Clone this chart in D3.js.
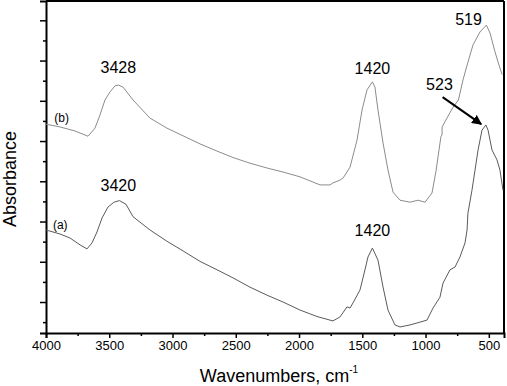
<!DOCTYPE html>
<html>
<head>
<meta charset="utf-8">
<script src="https://cdn.jsdelivr.net/npm/d3@7"></script>
<style>
  body { margin: 0; background: #fff; }
  text { font-family: "Liberation Sans", Arial, sans-serif; }
</style>
</head>
<body>
<div id="chart"></div>
<script>
// spectrum (b) - wavenumber / absorbance
const wnB = [4000, 3889, 3771, 3668, 3613, 3573, 3534, 3494, 3455, 3428, 3391, 3312, 3178, 3044, 2917, 2783, 2648, 2522, 2388, 2253, 2127, 1992, 1834, 1755, 1732, 1676, 1652, 1597, 1542, 1502, 1463, 1420, 1400, 1376, 1336, 1297, 1257, 1202, 1123, 1060, 1004, 949, 917, 895, 878, 870, 869, 840, 783, 740, 704, 665, 625, 570, 540, 519, 490, 455, 425, 395];
const absB = [0.442, 0.435, 0.425, 0.412, 0.432, 0.465, 0.502, 0.522, 0.537, 0.539, 0.534, 0.502, 0.457, 0.432, 0.413, 0.393, 0.375, 0.359, 0.345, 0.333, 0.323, 0.311, 0.291, 0.291, 0.296, 0.303, 0.308, 0.335, 0.402, 0.477, 0.527, 0.547, 0.534, 0.477, 0.395, 0.328, 0.273, 0.253, 0.248, 0.253, 0.248, 0.271, 0.326, 0.375, 0.412, 0.415, 0.435, 0.452, 0.484, 0.502, 0.552, 0.596, 0.639, 0.671, 0.681, 0.688, 0.668, 0.626, 0.594, 0.565];

// spectrum (a)
const wnA = [4000, 3889, 3810, 3731, 3676, 3636, 3597, 3557, 3510, 3463, 3420, 3368, 3312, 3178, 3044, 2917, 2783, 2648, 2522, 2388, 2253, 2127, 1992, 1858, 1732, 1676, 1621, 1597, 1573, 1518, 1479, 1455, 1420, 1376, 1336, 1297, 1242, 1202, 1123, 1044, 989, 941, 886, 862, 807, 767, 728, 688, 672, 665, 633, 585, 554, 523, 506, 475, 435, 412, 388];
const absA = [0.179, 0.169, 0.159, 0.142, 0.132, 0.147, 0.174, 0.209, 0.236, 0.248, 0.252, 0.243, 0.212, 0.179, 0.151, 0.127, 0.101, 0.080, 0.060, 0.037, 0.017, 0.000, -0.020, -0.036, -0.047, -0.037, -0.012, -0.015, -0.002, 0.030, 0.080, 0.112, 0.134, 0.104, 0.037, -0.020, -0.057, -0.062, -0.057, -0.050, -0.045, -0.015, 0.012, 0.047, 0.080, 0.087, 0.112, 0.147, 0.179, 0.221, 0.278, 0.378, 0.427, 0.440, 0.427, 0.378, 0.353, 0.328, 0.278];

const xTicks = [4000, 3500, 3000, 2500, 2000, 1500, 1000, 500];
const yTicks = [0, 0.1, 0.2, 0.3, 0.4, 0.5, 0.6, 0.7];

// peak labels: text, wavenumber, absorbance of baseline
const peakLabels = [
  { text: "3428", wn: 3428, abs: 0.569 },
  { text: "3420", wn: 3428, abs: 0.275 },
  { text: "1420", wn: 1420, abs: 0.567 },
  { text: "1420", wn: 1420, abs: 0.164 },
  { text: "519", wn: 660, abs: 0.688 },
  { text: "523", wn: 890, abs: 0.527 }
];
const curveLabels = [
  { text: "(b)", wn: 3935, abs: 0.448 },
  { text: "(a)", wn: 3945, abs: 0.181 }
];

const W = 507, H = 386;
const margin = { left: 46, right: 3, top: 1, bottom: 53 };

const svg = d3.select("#chart").append("svg")
  .attr("width", W)
  .attr("height", H);

const x = d3.scaleLinear().domain([4000, 380]).range([margin.left, W - margin.right]);
const y = d3.scaleLinear().domain([-0.077, 0.748]).range([H - margin.bottom, margin.top]);

// arrow marker
svg.append("defs").append("marker")
  .attr("id", "arrow")
  .attr("viewBox", "0 0 10 10")
  .attr("refX", 9).attr("refY", 5)
  .attr("markerWidth", 5).attr("markerHeight", 5)
  .attr("markerUnits", "strokeWidth")
  .attr("orient", "auto")
  .append("path")
  .attr("d", "M0,0 L10,5 L0,10 z")
  .attr("fill", "#000");

// x axis
const xAxis = svg.append("g")
  .attr("transform", `translate(0,${y.range()[0]})`)
  .call(d3.axisBottom(x).tickValues(xTicks).tickSize(5).tickPadding(3).tickFormat(d3.format("d")));
svg.append("g")
  .attr("transform", `translate(0,${y.range()[0]})`)
  .call(d3.axisBottom(x).tickValues(d3.range(3750, 380, -500)).tickSize(3).tickFormat(""))
  .select(".domain").remove();

// y axis, no labels
svg.append("g")
  .attr("transform", `translate(${margin.left},0)`)
  .call(d3.axisLeft(y).tickValues(yTicks).tickSize(6).tickFormat(""));
svg.append("g")
  .attr("transform", `translate(${margin.left},0)`)
  .call(d3.axisLeft(y).tickValues(d3.range(-0.05, 0.7, 0.1)).tickSize(3).tickFormat(""))
  .select(".domain").remove();

svg.selectAll(".domain").attr("stroke-width", 2);
svg.selectAll(".tick line").attr("stroke-width", 1.5);
xAxis.selectAll("text").attr("font-size", 13).attr("font-family", "Liberation Sans, Arial, sans-serif");

// frame top and right
svg.append("line")
  .attr("x1", margin.left).attr("x2", W - margin.right)
  .attr("y1", margin.top).attr("y2", margin.top)
  .attr("stroke", "#000").attr("stroke-width", 2);
svg.append("line")
  .attr("x1", W - margin.right).attr("x2", W - margin.right)
  .attr("y1", margin.top).attr("y2", y.range()[0])
  .attr("stroke", "#000").attr("stroke-width", 2);

const line = d3.line()
  .x(d => x(d[0]))
  .y(d => y(d[1]));

svg.append("path")
  .datum(d3.zip(wnB, absB))
  .attr("fill", "none")
  .attr("stroke", "#8c8c8c")
  .attr("stroke-width", 1)
  .attr("d", line);

svg.append("path")
  .datum(d3.zip(wnA, absA))
  .attr("fill", "none")
  .attr("stroke", "#5a5a5a")
  .attr("stroke-width", 1)
  .attr("d", line);

svg.selectAll(".peak")
  .data(peakLabels)
  .enter().append("text")
  .attr("class", "peak")
  .attr("x", d => x(d.wn))
  .attr("y", d => y(d.abs))
  .attr("text-anchor", "middle")
  .attr("font-size", 16)
  .text(d => d.text);

svg.selectAll(".curve")
  .data(curveLabels)
  .enter().append("text")
  .attr("class", "curve")
  .attr("x", d => x(d.wn))
  .attr("y", d => y(d.abs))
  .attr("font-size", 12)
  .text(d => d.text);

// arrow to 523 peak
svg.append("line")
  .attr("x1", x(865)).attr("y1", y(0.509))
  .attr("x2", x(560)).attr("y2", y(0.442))
  .attr("stroke", "#000")
  .attr("stroke-width", 2)
  .attr("marker-end", "url(#arrow)");

// axis titles
const xt = svg.append("text")
  .attr("x", (margin.left + W - margin.right) / 2 + 4)
  .attr("y", 382)
  .attr("text-anchor", "middle")
  .attr("font-size", 18);
xt.append("tspan").text("Wavenumbers, cm");
xt.append("tspan").attr("dy", -9).attr("font-size", 10).text("-1");

svg.append("text")
  .attr("transform", `translate(16,${(margin.top + y.range()[0]) / 2 + 12}) rotate(-90)`)
  .attr("text-anchor", "middle")
  .attr("font-size", 18)
  .text("Absorbance");
</script>
</body>
</html>
